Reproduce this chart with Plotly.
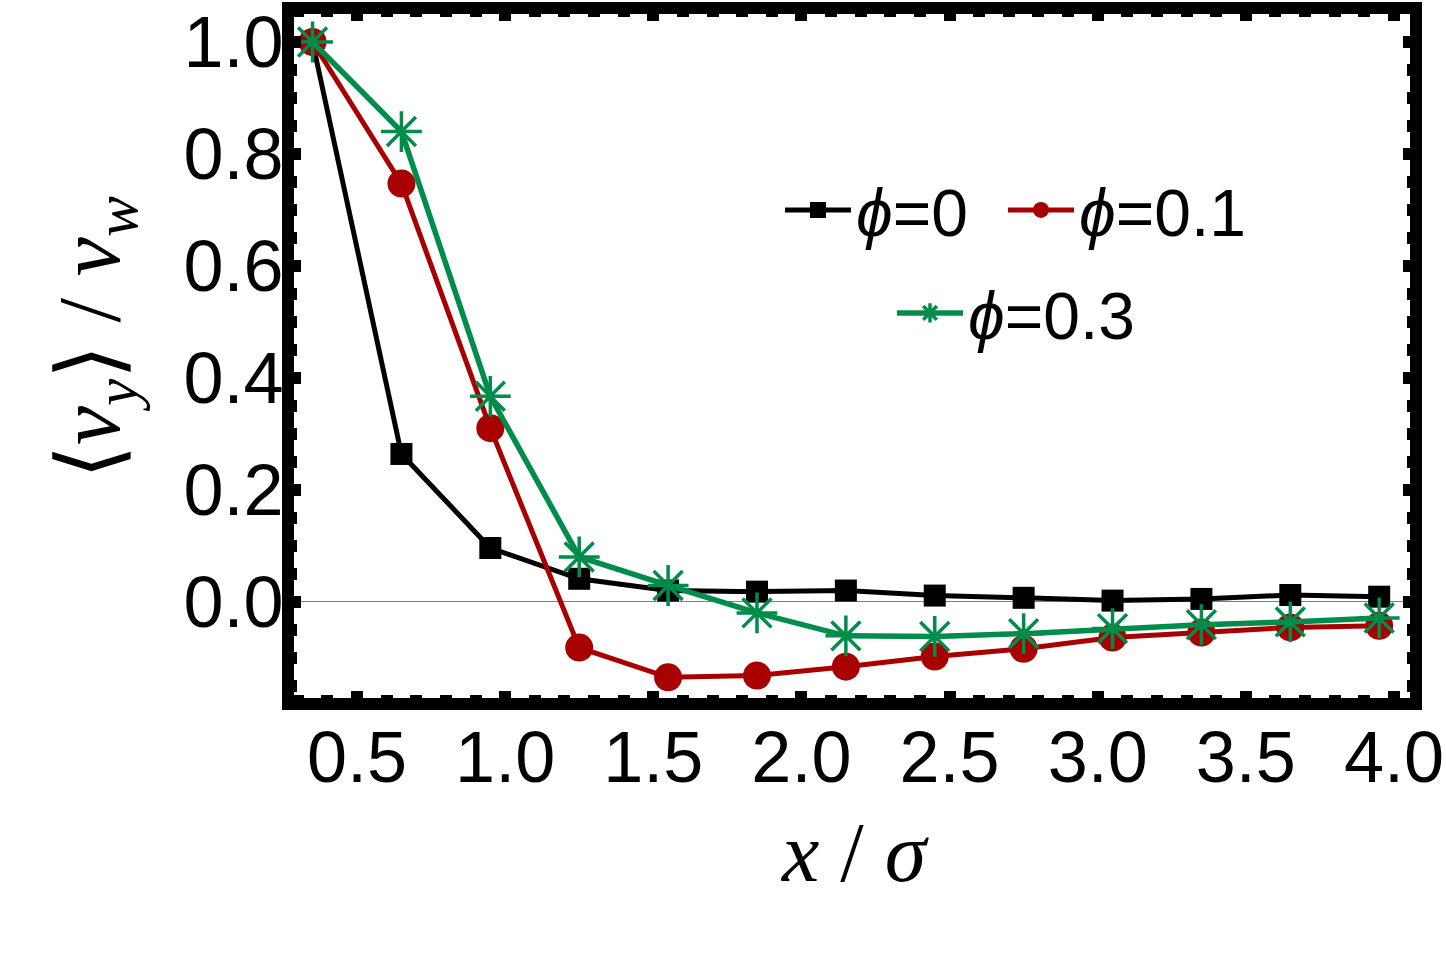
import plotly.graph_objects as go

# Data
x_vals = [0.35, 0.65, 0.95, 1.25, 1.55, 1.85, 2.15, 2.45, 2.75, 3.05, 3.35, 3.65, 3.95]
phi0 = [1.0, 0.264, 0.096, 0.041, 0.020, 0.018, 0.020, 0.011, 0.007, 0.002, 0.005, 0.012, 0.009]
phi01 = [1.0, 0.747, 0.310, -0.082, -0.135, -0.132, -0.116, -0.098, -0.084, -0.064, -0.055, -0.046, -0.043]
phi03 = [1.0, 0.840, 0.367, 0.080, 0.029, -0.020, -0.061, -0.062, -0.057, -0.048, -0.041, -0.036, -0.029]

series_names = ["<i>ϕ</i>=0", "<i>ϕ</i>=0.1", "<i>ϕ</i>=0.3"]
x_ticks = [0.5, 1.0, 1.5, 2.0, 2.5, 3.0, 3.5, 4.0]
x_ticktext = ["0.5", "1.0", "1.5", "2.0", "2.5", "3.0", "3.5", "4.0"]
y_ticks = [0.0, 0.2, 0.4, 0.6, 0.8, 1.0]
y_ticktext = ["0.0", "0.2", "0.4", "0.6", "0.8", "1.0"]

BLACK = "#000000"
RED = "#A80000"
GREEN = "#008C4A"

fig = go.Figure()
fig.add_trace(go.Scatter(
    x=x_vals, y=phi0, mode="lines+markers", name=series_names[0],
    line=dict(color=BLACK, width=5),
    marker=dict(symbol="square", size=22, color=BLACK),
    legend="legend",
))
fig.add_trace(go.Scatter(
    x=x_vals, y=phi01, mode="lines+markers", name=series_names[1],
    line=dict(color=RED, width=5),
    marker=dict(symbol="circle", size=28, color=RED),
    legend="legend2",
))
fig.add_trace(go.Scatter(
    x=x_vals, y=phi03, mode="lines+markers", name=series_names[2],
    line=dict(color=GREEN, width=5.5),
    marker=dict(symbol="asterisk", size=34, color=GREEN,
                line=dict(color=GREEN, width=3.5)),
    legend="legend3",
))

L, R, T, B = 294, 1410, 14, 698
W, H = 1446, 956

def px_x(p):
    return (p - L) / (R - L)

def px_y(p):
    return (B - p) / (B - T)

legend_font = dict(family="Liberation Sans, Arial, sans-serif", size=66, color="black")
common_leg = dict(bgcolor="rgba(0,0,0,0)", borderwidth=0, font=legend_font, itemwidth=66,
                  xanchor="left", yanchor="middle", xref="paper", yref="paper")

tick_font = dict(family="Liberation Sans, Arial, sans-serif", size=72, color="black")
title_font_family = "Liberation Serif, Times New Roman, serif"

fig.update_layout(
    width=W, height=H,
    margin=dict(l=L, r=W - R, t=T, b=H - B, pad=0),
    paper_bgcolor="white", plot_bgcolor="white",
    showlegend=True,
    legend=dict(x=px_x(780), y=px_y(210), **common_leg),
    legend2=dict(x=px_x(1003), y=px_y(210), **common_leg),
    legend3=dict(x=px_x(892), y=px_y(313), **common_leg),
    xaxis=dict(
        range=[0.2874, 4.054], tickmode="array", tickvals=x_ticks, ticktext=x_ticktext,
        ticks="inside", ticklen=7, tickwidth=12, tickcolor="black",
        showline=True, linecolor="black", linewidth=12, mirror="allticks",
        showgrid=False, zeroline=False, tickfont=tick_font, automargin=False,
        ticklabelstandoff=-14,
        minor=dict(dtick=0.1, tick0=0.0, ticks="inside", ticklen=3, tickwidth=12,
                   tickcolor="black", showgrid=False),
    ),
    yaxis=dict(
        range=[-0.172, 1.050], tickmode="array", tickvals=y_ticks, ticktext=y_ticktext,
        ticks="inside", ticklen=7, tickwidth=12, tickcolor="black",
        showline=True, linecolor="black", linewidth=12, mirror="allticks",
        showgrid=False, zeroline=True, zerolinecolor="#808080", zerolinewidth=1.3,
        tickfont=tick_font, automargin=False, ticklabelstandoff=-16,
        minor=dict(dtick=0.05, tick0=0.0, ticks="inside", ticklen=3, tickwidth=12,
                   tickcolor="black", showgrid=False),
    ),
    annotations=[
        dict(text="<i>x</i> / <i>σ</i>", x=px_x(855), y=px_y(852), xref="paper", yref="paper",
             showarrow=False, xanchor="center", yanchor="middle",
             font=dict(family=title_font_family, size=84, color="black")),
        dict(text="⟨<i>v</i><sub><i>y</i></sub>⟩ / <i>v</i><sub><i>w</i></sub>",
             x=px_x(95), y=px_y(338), xref="paper", yref="paper", textangle=-90,
             showarrow=False, xanchor="center", yanchor="middle",
             font=dict(family=title_font_family, size=88, color="black")),
    ],
)

fig.write_html("out.html")
